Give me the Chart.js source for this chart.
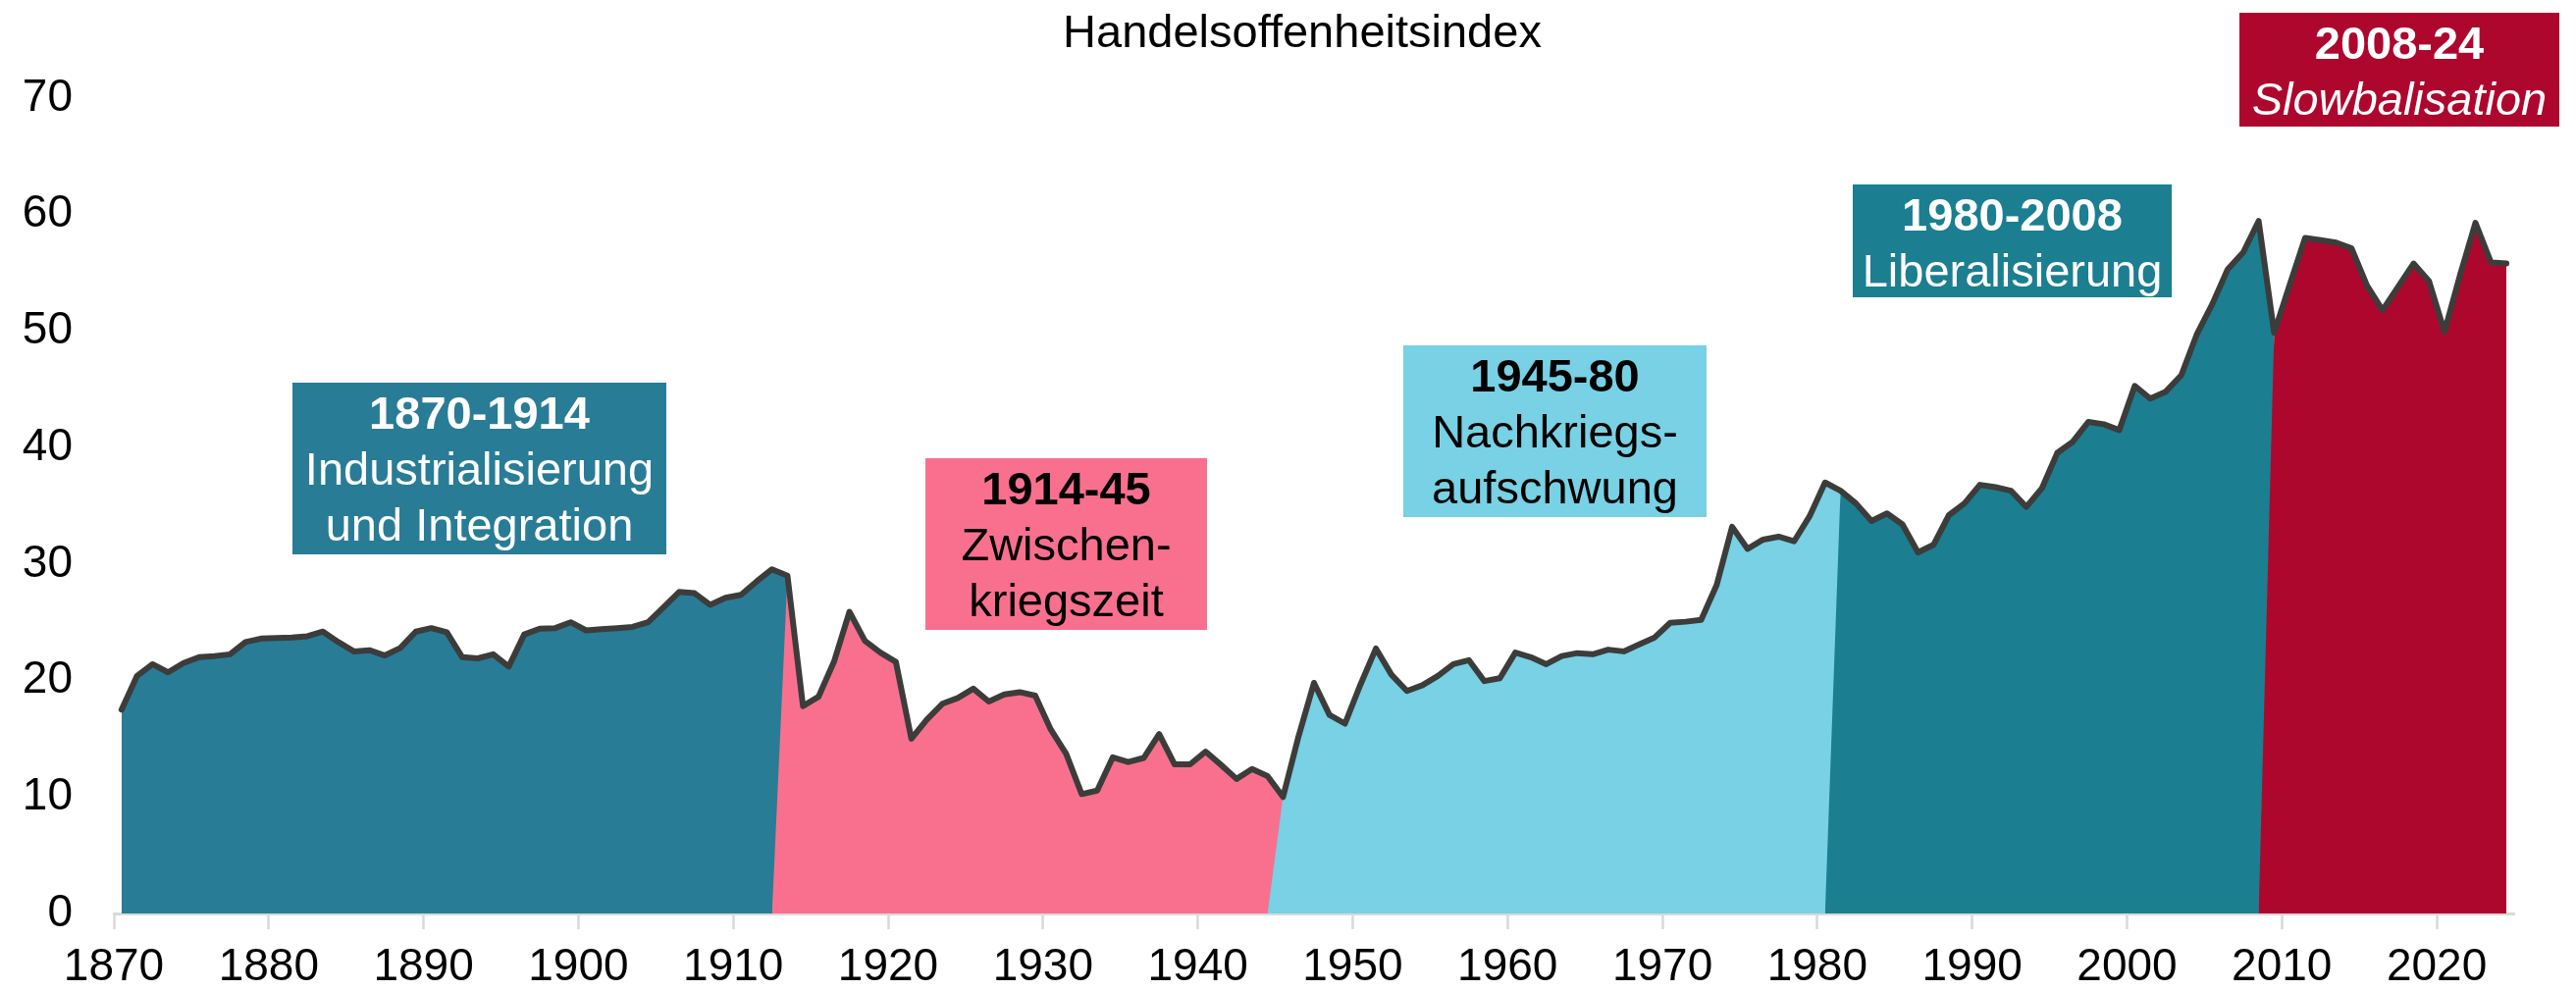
<!DOCTYPE html>
<html lang="de">
<head>
<meta charset="utf-8">
<title>Handelsoffenheitsindex</title>
<script src="https://cdn.jsdelivr.net/npm/chart.js@4.4.1/dist/chart.umd.min.js"></script>
<style>
  html, body { margin: 0; padding: 0; background: #fff; }
  #wrap { width: 2625px; height: 1009px; }
</style>
</head>
<body>
<div id="wrap"><canvas id="chart" width="2625" height="1009"></canvas></div>
<script>
// Trade openness index 1870-2024, one value per year
const chartTitle = 'Handelsoffenheitsindex';
const years = Array.from({ length: 155 }, (_, i) => 1870 + i);
const openness = [
    17.5, 20.4, 21.4, 20.7, 21.5, 22.0, 22.1, 22.25, 23.3, 23.6,      // 1870-1879
    23.65, 23.7, 23.8, 24.2, 23.3, 22.5, 22.6, 22.15, 22.8, 24.2,     // 1880-1889
    24.5, 24.15, 22.0, 21.9, 22.25, 21.2, 23.95, 24.45, 24.5, 25.0,   // 1890-1899
    24.3, 24.4, 24.5, 24.6, 25.0, 26.3, 27.6, 27.5, 26.5, 27.1,       // 1900-1909
    27.35, 28.5, 29.55, 29.0, 17.8, 18.6, 21.6, 25.9, 23.4, 22.4,     // 1910-1919
    21.6, 15.0, 16.65, 18.0, 18.5, 19.3, 18.2, 18.8, 19.0, 18.7,      // 1920-1929
    15.8, 13.7, 10.25, 10.55, 13.4, 13.0, 13.35, 15.4, 12.8, 12.8,    // 1930-1939
    13.9, 12.75, 11.55, 12.4, 11.8, 10.0, 15.2, 19.8, 17.05, 16.3,    // 1940-1949
    19.65, 22.75, 20.5, 19.1, 19.6, 20.4, 21.4, 21.75, 19.95, 20.2,   // 1950-1959
    22.4, 22.0, 21.4, 22.1, 22.35, 22.25, 22.65, 22.5, 23.1, 23.7,    // 1960-1969
    24.95, 25.05, 25.2, 28.2, 33.2, 31.3, 32.1, 32.35, 31.95, 34.1,   // 1970-1979
    37.0, 36.3, 35.2, 33.7, 34.35, 33.4, 31.0, 31.65, 34.2, 35.2,     // 1980-1989
    36.8, 36.6, 36.3, 34.9, 36.5, 39.55, 40.5, 42.2, 42.0, 41.5,      // 1990-1999
    45.3, 44.2, 44.8, 46.2, 49.7, 52.3, 55.3, 56.75, 59.45, 49.85,    // 2000-2009
    53.95, 58.0, 57.8, 57.6, 57.1, 53.9, 51.8, 53.8, 55.8, 54.3,      // 2010-2019
    49.95, 54.8, 59.3, 55.9, 55.8                                     // 2020-2024
];

// Periods: first and last year with a value (the year before starts at 0)
const periodStart = [1870, 1913, 1945, 1981, 2009];
const periodEnd = [1913, 1945, 1981, 2009, 2024];
const periodTitles = ['1870-1914', '1914-45', '1945-80', '1980-2008', '2008-24'];
const periodNames = [
    ['Industrialisierung', 'und Integration'],
    ['Zwischen-', 'kriegszeit'],
    ['Nachkriegs-', 'aufschwung'],
    ['Liberalisierung'],
    ['Slowbalisation']
];

const periodColors = ['#297C96', '#F9708F', '#78D1E4', '#1C7E91', '#AE072E'];
const FONT = '"Liberation Sans", Arial, Helvetica, sans-serif';

// label boxes (pixel placement of the text boxes)
const boxes = [
    { x: 298, y: 390, w: 381, h: 175, ink: '#ffffff' },
    { x: 943, y: 467, w: 287, h: 175, ink: '#000000' },
    { x: 1430, y: 352, w: 309, h: 175, ink: '#000000' },
    { x: 1888, y: 188, w: 325, h: 115, ink: '#ffffff' },
    { x: 2282, y: 13, w: 326, h: 116, ink: '#ffffff', italic: true }
];

function periodSeries(k) {
    return years.map((yr, i) => {
        if (yr >= periodStart[k] && yr <= periodEnd[k]) return openness[i];
        if (yr === periodStart[k] - 1) return 0;
        return null;
    });
}

const datasets = periodStart.map((_, k) => ({
    data: periodSeries(k),
    fill: 'origin',
    backgroundColor: periodColors[k],
    borderColor: 'rgba(0,0,0,0)',
    borderWidth: 0,
    pointRadius: 0,
    tension: 0,
    order: periodStart.length - k
}));

datasets.push({
    data: openness,
    fill: false,
    borderColor: '#3C3C3B',
    borderWidth: 6,
    borderJoinStyle: 'round',
    borderCapStyle: 'round',
    pointRadius: 0,
    tension: 0,
    order: 0
});

const periodLabels = {
    id: 'periodLabels',
    afterDraw(chart) {
        const c = chart.ctx;
        c.save();
        c.textAlign = 'center';
        c.textBaseline = 'alphabetic';
        c.fillStyle = '#000';
        c.font = '47px ' + FONT;
        c.fillText(chartTitle, 1327, 48);

        boxes.forEach((b, i) => {
            c.fillStyle = periodColors[i];
            c.fillRect(b.x, b.y, b.w, b.h);
            c.fillStyle = b.ink;
            const cx = b.x + b.w / 2;
            c.font = 'bold 47px ' + FONT;
            c.fillText(periodTitles[i], cx, b.y + 46.5);
            c.font = (b.italic ? 'italic ' : '') + '47px ' + FONT;
            periodNames[i].forEach((line, j) => {
                c.fillText(line, cx, b.y + 46.5 + 57.3 * (j + 1));
            });
        });
        c.restore();
    }
};

Chart.defaults.font.family = FONT;

function decadeTick(ctx) {
    const yr = years[ctx.index];
    return (yr !== undefined && yr % 10 === 0) ? '#D9D9D9' : 'rgba(0,0,0,0)';
}

new Chart(document.getElementById('chart'), {
    type: 'line',
    data: { labels: years.map(String), datasets: datasets },
    options: {
        responsive: false,
        animation: false,
        layout: { padding: { left: 0, right: 63, top: 100, bottom: 0 } },
        plugins: {
            legend: { display: false },
            tooltip: { enabled: false },
            title: { display: false }
        },
        scales: {
            x: {
                type: 'category',
                offset: true,
                grid: {
                    offset: true,
                    drawOnChartArea: false,
                    drawTicks: true,
                    tickLength: 16,
                    tickWidth: 2.5,
                    color: decadeTick,
                    tickColor: decadeTick
                },
                border: { display: true, color: '#D9D9D9', width: 3 },
                ticks: {
                    autoSkip: false,
                    maxRotation: 0,
                    minRotation: 0,
                    padding: 12,
                    labelOffset: -7.9,
                    color: '#000',
                    font: { size: 46 },
                    callback: function(val, i) {
                        return years[i] % 10 === 0 ? String(years[i]) : '';
                    }
                },
                afterFit: function(scale) { scale.height = 78; }
            },
            y: {
                min: 0,
                max: 70,
                grid: { display: false, drawTicks: false },
                border: { display: false },
                ticks: {
                    stepSize: 10,
                    padding: 42,
                    color: '#000',
                    font: { size: 46 }
                },
                afterFit: function(scale) { scale.width = 116; }
            }
        }
    },
    plugins: [periodLabels]
});
</script>
</body>
</html>
